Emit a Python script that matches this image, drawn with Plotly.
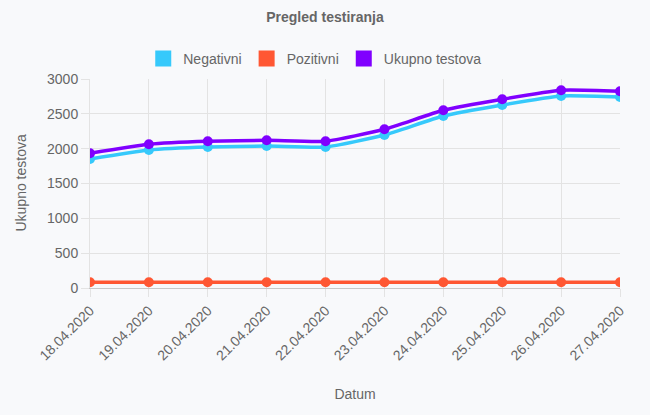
import plotly.graph_objects as go

dates = ["18.04.2020", "19.04.2020", "20.04.2020", "21.04.2020", "22.04.2020",
         "23.04.2020", "24.04.2020", "25.04.2020", "26.04.2020", "27.04.2020"]
negativni = [1852, 1981, 2024, 2038, 2024, 2196, 2469, 2627, 2756, 2742]
pozitivni = [82, 82, 82, 82, 82, 82, 82, 82, 82, 82]
ukupno = [1934, 2063, 2106, 2120, 2106, 2278, 2551, 2709, 2838, 2824]
y_ticks = [0, 500, 1000, 1500, 2000, 2500, 3000]

series = [("Negativni", negativni, "#36c9fb"),
          ("Pozitivni", pozitivni, "#ff5733"),
          ("Ukupno testova", ukupno, "#8000ff")]

fig = go.Figure()
for name, vals, col in series:
    fig.add_trace(go.Scatter(
        x=dates, y=vals, name=name, mode="lines+markers",
        line=dict(color=col, width=3.5, shape="spline", smoothing=0.5),
        marker=dict(color=col, size=10),
        showlegend=False, hoverinfo="x+y+name"))
for name, vals, col in series:
    fig.add_trace(go.Scatter(
        x=[None], y=[None], name=name, mode="markers",
        marker=dict(color=col, size=19, symbol="square"),
        showlegend=True))

font = "Liberation Sans, Arial, Helvetica, sans-serif"
fs = 14
fig.update_layout(
    width=650, height=415,
    margin=dict(l=90, r=30, t=79, b=127),
    paper_bgcolor="#f8f9fb", plot_bgcolor="#f8f9fb",
    font=dict(family=font, color="#666666", size=fs),
    title=dict(text="<b>Pregled testiranja</b>", x=0.5, xanchor="center",
               y=0.959, yanchor="middle", font=dict(size=fs, color="#666666")),
    legend=dict(orientation="h", x=0.425, xanchor="center", y=1.096, yanchor="middle",
                font=dict(size=fs, color="#666666"), itemwidth=30,
                bgcolor="rgba(0,0,0,0)"),
    showlegend=True,
    annotations=[dict(text="Ukupno testova", xref="paper", yref="paper",
                      x=-0.132, y=0.5, xanchor="center", yanchor="middle",
                      textangle=-90, showarrow=False,
                      font=dict(size=fs, color="#666666"))],
)
fig.update_xaxes(
    type="category", tickangle=-45, showgrid=True, gridcolor="#e3e3e3",
    ticks="outside", ticklen=8, tickcolor="#e3e3e3", showline=True,
    linecolor="#c8c8c8", linewidth=1, mirror=False,
    range=[0, 9], zeroline=False, tickfont=dict(size=fs, color="#666666"),
    title=dict(text="Datum", font=dict(size=fs, color="#666666"), standoff=26))
fig.update_yaxes(
    range=[0, 3000], tickvals=y_ticks, showgrid=True, gridcolor="#e3e3e3",
    ticks="outside", ticklen=8, tickcolor="#e3e3e3", showline=True,
    linecolor="#e3e3e3", zeroline=True, zerolinecolor="#c8c8c8", zerolinewidth=1,
    tickfont=dict(size=fs, color="#666666"))

fig.write_html("out.html")
